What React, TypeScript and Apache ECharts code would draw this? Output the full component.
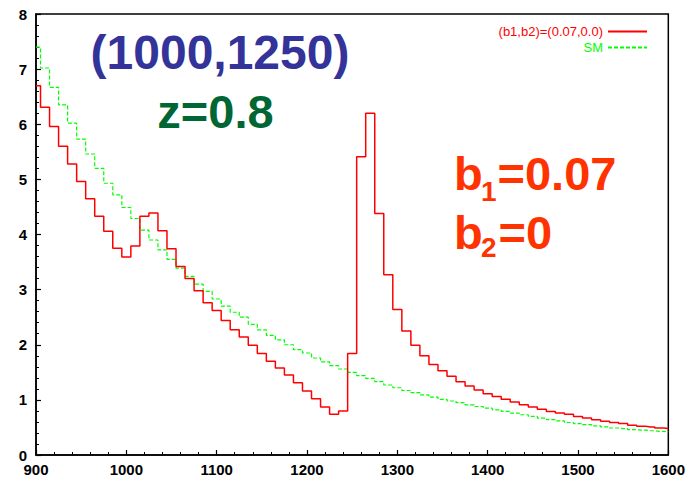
import React, { useEffect, useRef } from "react";
import * as echarts from "echarts";

// Bin centres (GeV) of the histogram
const massBins: number[] = Array.from({ length: 71 }, (_, i) => 900 + 10 * i);

// (b1,b2)=(0.07,0.0) histogram values
const signalValues: number[] = [
  6.70, 6.31, 5.96, 5.60, 5.28, 4.96, 4.65, 4.33, 4.06, 3.75,
  3.59, 3.79, 4.33, 4.39, 4.07, 3.74, 3.42, 3.20, 2.98, 2.76,
  2.62, 2.44, 2.27, 2.14, 1.99, 1.84, 1.70, 1.58, 1.45, 1.31,
  1.16, 1.02, 0.87, 0.74, 0.80, 1.84, 5.41, 6.20, 4.38, 3.27,
  2.64, 2.25, 1.99, 1.80, 1.64, 1.53, 1.43, 1.33, 1.25, 1.18,
  1.11, 1.06, 1.01, 0.96, 0.91, 0.87, 0.83, 0.79, 0.76, 0.74,
  0.70, 0.67, 0.64, 0.61, 0.59, 0.57, 0.54, 0.52, 0.51, 0.49,
  0.48,
];

// SM histogram values
const smValues: number[] = [
  7.40, 7.02, 6.67, 6.35, 6.02, 5.73, 5.46, 5.20, 4.93, 4.72,
  4.49, 4.29, 4.08, 3.90, 3.72, 3.55, 3.39, 3.24, 3.10, 2.97,
  2.83, 2.70, 2.59, 2.50, 2.37, 2.27, 2.17, 2.09, 2.00, 1.91,
  1.85, 1.76, 1.69, 1.62, 1.56, 1.50, 1.44, 1.39, 1.33, 1.27,
  1.22, 1.17, 1.13, 1.09, 1.05, 1.01, 0.98, 0.95, 0.91, 0.88,
  0.85, 0.82, 0.79, 0.76, 0.73, 0.70, 0.67, 0.64, 0.62, 0.59,
  0.57, 0.55, 0.53, 0.51, 0.49, 0.48, 0.46, 0.45, 0.44, 0.43,
  0.42,
];

const seriesNames = ["(b1,b2)=(0.07,0.0)", "SM"];

const FONT = "'Liberation Sans', Arial, Helvetica, sans-serif";
const GREEN = "#00ff00";
const RED = "#ff0000";

export default function App() {
  const ref = useRef<HTMLDivElement>(null);

  useEffect(() => {
    if (!ref.current) return;
    const chart = echarts.init(ref.current, undefined, { renderer: "svg" });

    const axisLabel = {
      color: "#000",
      fontWeight: "bold",
      fontSize: 15,
      fontFamily: FONT,
      formatter: (v: number) => String(v),
    };

    const txt = (
      text: string,
      x: number,
      y: number,
      size: number,
      fill: string,
      align: string
    ) => ({
      type: "text",
      x,
      y,
      silent: true,
      style: {
        text,
        fill,
        fontSize: size,
        fontWeight: "bold",
        fontFamily: FONT,
        align,
        verticalAlign: "middle",
      },
    });

    chart.setOption({
      animation: false,
      backgroundColor: "#fff",
      grid: {
        left: 36,
        right: 18,
        top: 14,
        bottom: 20,
        show: true,
        borderColor: "#000",
        borderWidth: 1.5,
        containLabel: false,
      },
      legend: {
        orient: "vertical",
        align: "right",
        right: 35,
        top: 20,
        itemWidth: 39,
        itemHeight: 12,
        itemGap: 3,
        selectedMode: false,
        itemStyle: { opacity: 0 },
        textStyle: { fontSize: 13, fontFamily: FONT, lineHeight: 12 },
        data: [
          { name: seriesNames[0], textStyle: { color: RED } },
          { name: seriesNames[1], textStyle: { color: GREEN } },
        ],
      },
      xAxis: {
        type: "value",
        min: 900,
        max: 1600,
        interval: 100,
        axisLine: { show: true, lineStyle: { color: "#000", width: 1.5 } },
        axisTick: { show: true, inside: true, length: 5, lineStyle: { color: "#000", width: 1.2 } },
        minorTick: { show: true, splitNumber: 5, length: 3, lineStyle: { color: "#000", width: 1 } },
        splitLine: { show: false },
        axisLabel: { ...axisLabel, margin: 7 },
      },
      yAxis: {
        type: "value",
        min: 0,
        max: 8,
        interval: 1,
        axisLine: { show: true, lineStyle: { color: "#000", width: 1.5 } },
        axisTick: { show: true, inside: true, length: 5, lineStyle: { color: "#000", width: 1.2 } },
        minorTick: { show: true, splitNumber: 5, length: 3, lineStyle: { color: "#000", width: 1 } },
        splitLine: { show: false },
        axisLabel: { ...axisLabel, margin: 9 },
      },
      series: [
        {
          name: seriesNames[0],
          type: "line",
          step: "middle",
          symbol: "none",
          data: massBins.map((m, i) => [m, signalValues[i]]),
          lineStyle: { color: RED, width: 1.5 },
          itemStyle: { color: RED },
          z: 3,
        },
        {
          name: seriesNames[1],
          type: "line",
          step: "middle",
          symbol: "none",
          data: massBins.map((m, i) => [m, smValues[i]]),
          lineStyle: { color: GREEN, width: 1.2, type: [4, 2] },
          itemStyle: { color: GREEN },
          z: 2,
        },
      ],
      graphic: [
        txt("(1000,1250)", 220, 52.5, 48, "#333399", "center"),
        txt("z=0.8", 215.5, 111.5, 47, "#006633", "center"),
        txt("b", 454, 173, 47, "#ff3300", "left"),
        txt("1", 481, 191, 28, "#ff3300", "left"),
        txt("=0.07", 497.5, 173, 47, "#ff3300", "left"),
        txt("b", 454, 232.5, 47, "#ff3300", "left"),
        txt("2", 481, 247.5, 28, "#ff3300", "left"),
        txt("=0", 498.5, 232.5, 47, "#ff3300", "left"),
      ],
    });

    return () => chart.dispose();
  }, []);

  return (
    <div
      ref={ref}
      style={{ position: "fixed", left: 0, top: 0, width: 688, height: 477 }}
    />
  );
}
